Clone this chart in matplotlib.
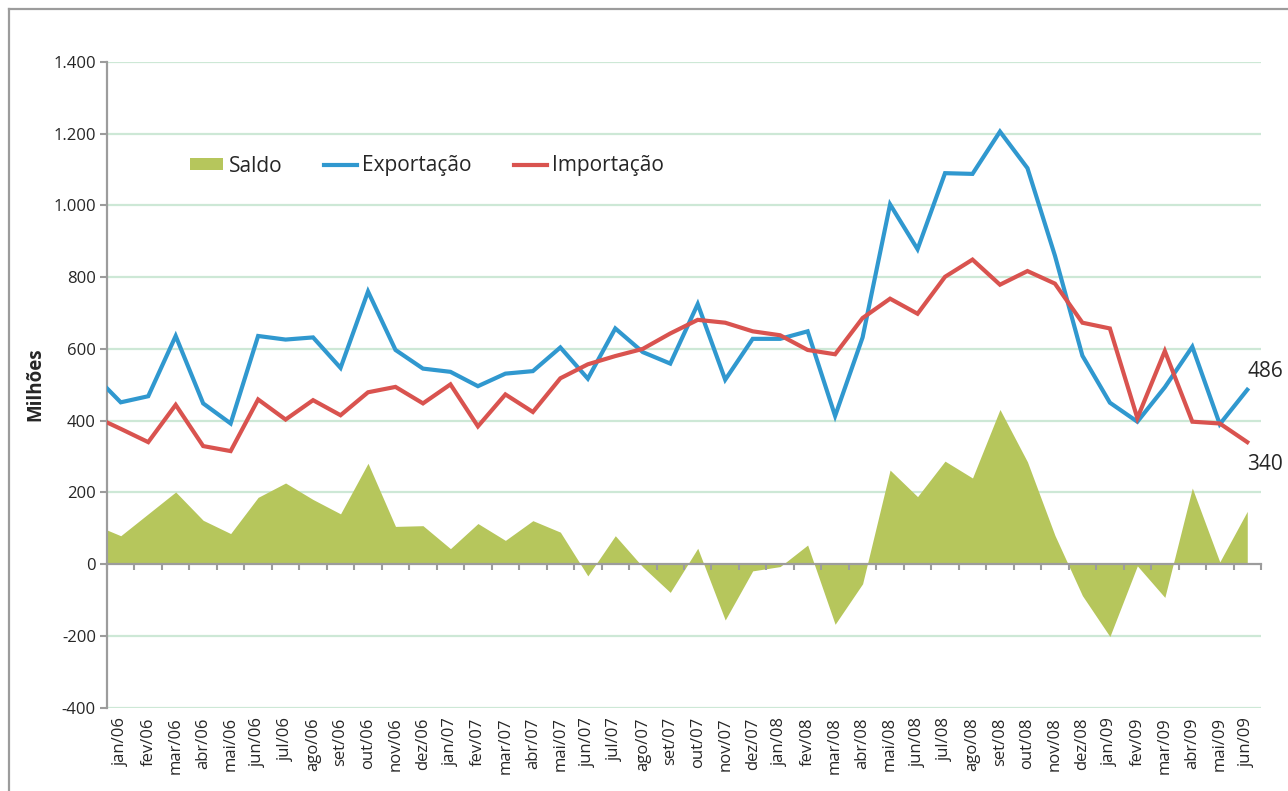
import numpy as np
import matplotlib
matplotlib.use("Agg")
import matplotlib.pyplot as plt
import matplotlib.transforms as mtransforms
from matplotlib.lines import Line2D
from matplotlib.ticker import FuncFormatter, MultipleLocator

plt.rcParams['font.family'] = ['Open Sans', 'DejaVu Sans']

# months shown on the axis (jan/06 .. jun/09)
meses = ["jan/06", "fev/06", "mar/06", "abr/06", "mai/06", "jun/06", "jul/06", "ago/06",
         "set/06", "out/06", "nov/06", "dez/06",
         "jan/07", "fev/07", "mar/07", "abr/07", "mai/07", "jun/07", "jul/07", "ago/07",
         "set/07", "out/07", "nov/07", "dez/07",
         "jan/08", "fev/08", "mar/08", "abr/08", "mai/08", "jun/08", "jul/08", "ago/08",
         "set/08", "out/08", "nov/08", "dez/08",
         "jan/09", "fev/09", "mar/09", "abr/09", "mai/09", "jun/09"]

# first value of each series is dez/05 (just left of the visible window)
exportacao = [529,
              451, 468, 636, 448, 392, 636, 626, 632, 547, 760, 597, 545,
              536, 496, 531, 538, 604, 517, 657, 591, 559, 725, 514, 628,
              628, 649, 413, 632, 1003, 878, 1090, 1088, 1206, 1104, 860, 581,
              450, 397, 493, 606, 390, 486]
importacao = [413,
              377, 340, 444, 329, 315, 459, 403, 457, 415, 479, 494, 448,
              501, 384, 473, 424, 518, 557, 580, 600, 643, 681, 673, 649,
              638, 597, 585, 686, 740, 698, 801, 849, 779, 817, 782, 673,
              657, 407, 594, 397, 392, 340]
saldo = [111,
         79, 140, 201, 122, 85, 186, 226, 180, 140, 281, 105, 107,
         43, 113, 66, 121, 89, -33, 79, -8, -79, 44, -156, -19,
         -7, 53, -168, -55, 262, 188, 287, 240, 431, 285, 80, -88,
         -202, -5, -93, 212, 6, 147]

x = np.arange(-1, len(meses))

col_saldo = "#b6c65c"
col_exp = "#3098cf"
col_imp = "#d9534f"
col_grid = "#cde8d6"
col_axis = "#9c9c9c"
col_text = "#262626"

fig = plt.figure(figsize=(12.88, 7.91), dpi=100)
ax = fig.add_axes([107 / 1288, 1 - 707.5 / 791, (1261 - 107) / 1288, (707.5 - 62) / 791])

ax.fill_between(x, 0, saldo, color=col_saldo, lw=0, label="Saldo", zorder=1)
ax.plot(x, exportacao, color=col_exp, lw=3, label="Exportação", zorder=3,
        solid_joinstyle="miter")
ax.plot(x, importacao, color=col_imp, lw=3, label="Importação", zorder=3,
        solid_joinstyle="miter")

ax.set_xlim(-0.5, len(meses) - 0.5)
ax.set_ylim(-400, 1400)

# y axis
ax.yaxis.set_major_locator(MultipleLocator(200))
ax.yaxis.set_major_formatter(FuncFormatter(lambda v, p: f"{v:,.0f}".replace(",", ".")))
for v in range(-400, 1401, 200):
    if v != 0:
        ax.axhline(v, color=col_grid, lw=1.6, zorder=0.5)
ax.tick_params(axis="y", length=5, width=1.5, color=col_axis, pad=3,
               labelsize=12, labelcolor=col_text)

# x axis: line at zero, tick marks between categories, labels at the bottom
for s in ["top", "right"]:
    ax.spines[s].set_visible(False)
ax.spines["left"].set_color(col_axis)
ax.spines["left"].set_linewidth(1.6)
ax.spines["bottom"].set_position(("data", 0))
ax.spines["bottom"].set_color(col_axis)
ax.spines["bottom"].set_linewidth(1.6)
ax.spines["bottom"].set_zorder(2)
ax.set_xticks(np.arange(-0.5, len(meses)), minor=True)
ax.set_xticks([])
ax.tick_params(axis="x", which="minor", direction="out", length=4, width=1.5, color=col_axis)

trans = mtransforms.blended_transform_factory(ax.transData, ax.transAxes)
for i, m in enumerate(meses):
    ax.annotate(m, xy=(i, 0), xycoords=trans, xytext=(0, -7), textcoords="offset points",
                rotation=90, ha="center", va="top", fontsize=12, color=col_text)

# end labels
ax.annotate(str(exportacao[-1]), xy=(x[-1], exportacao[-1]), xytext=(13, 13),
            textcoords="offset points", ha="center", va="center", fontsize=15, color=col_text)
ax.annotate(str(importacao[-1]), xy=(x[-1], importacao[-1]), xytext=(13, -16),
            textcoords="offset points", ha="center", va="center", fontsize=15, color=col_text)

fig.text(35 / 1288, 1 - 384 / 791, "Milhões", rotation=90, ha="center", va="center",
         fontsize=13.5, fontweight="bold", color=col_text)

leg = fig.legend(loc="center left", bbox_to_anchor=(190 / 1288, 1 - 166 / 791), ncol=3,
                 frameon=False, fontsize=15, handlelength=1.6, handleheight=0.55,
                 handletextpad=0.25, columnspacing=2.0, borderpad=0, borderaxespad=0)
for t in leg.get_texts():
    t.set_color(col_text)

# outer frame (top and left)
fig.add_artist(Line2D([9 / 1288, 1], [1 - 9 / 791, 1 - 9 / 791], transform=fig.transFigure,
                      color=col_axis, lw=1.6))
fig.add_artist(Line2D([9 / 1288, 9 / 1288], [0, 1 - 9 / 791], transform=fig.transFigure,
                      color=col_axis, lw=1.6))

fig.savefig("out.png", dpi=100)
